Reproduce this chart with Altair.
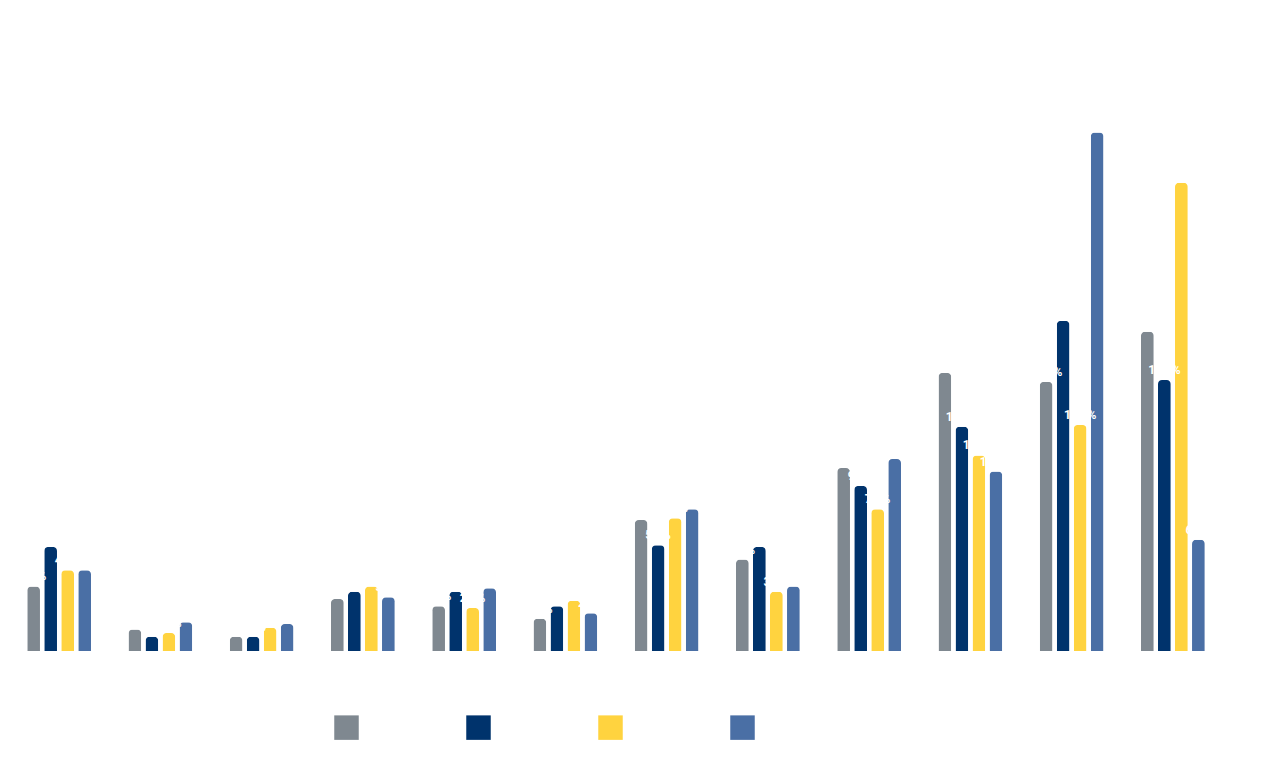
import altair as alt
import pandas as pd

months = ["jan", "fev", "mar", "abr", "mai", "jun", "jul", "ago", "set", "out", "nov", "dez"]
series = ["2020", "2021", "2022", "2023"]
colors = ["#7f8890", "#00336c", "#ffd33f", "#4a6fa5"]

v2020 = [3.6, 1.2, 0.8, 2.9, 2.5, 1.8, 7.3, 5.1, 10.2, 15.5, 15.0, 17.8]
v2021 = [5.8, 0.8, 0.8, 3.3, 3.3, 2.5, 5.9, 5.8, 9.2, 12.5, 18.4, 15.1]
v2022 = [4.5, 1.0, 1.3, 3.6, 2.4, 2.8, 7.4, 3.3, 7.9, 10.9, 12.6, 26.1]
v2023 = [4.5, 1.6, 1.5, 3.0, 3.5, 2.1, 7.9, 3.6, 10.7, 10.0, 28.9, 6.2]

rows = []
for s, vals in zip(series, [v2020, v2021, v2022, v2023]):
    for m, v in zip(months, vals):
        rows.append({"mes": m, "ano": s, "valor": v,
                     "rotulo": f"{v:.1f}%".replace(".", ",")})
df = pd.DataFrame(rows)

x = alt.X("mes:N", sort=months, title=None,
          scale=alt.Scale(paddingInner=0.37, paddingOuter=0.18),
          axis=alt.Axis(labelColor="white", labelFontSize=14, domain=False,
                        ticks=False, grid=False, labelPadding=12, labelAngle=0))
xo = alt.XOffset("ano:N", sort=series, scale=alt.Scale(paddingInner=0.25))
y = alt.Y("valor:Q", title=None, scale=alt.Scale(domain=[0, 34], nice=False),
          axis=None)

bars = alt.Chart(df).mark_bar(cornerRadiusTopLeft=4, cornerRadiusTopRight=4).encode(
    x=x, xOffset=xo, y=y,
    color=alt.Color("ano:N", sort=series,
                    scale=alt.Scale(domain=series, range=colors),
                    legend=alt.Legend(title=None, orient="none", direction="horizontal",
                                      legendX=325, legendY=674, symbolType="square",
                                      symbolSize=600, symbolStrokeWidth=0,
                                      labelColor="white", labelFontSize=14,
                                      columnPadding=71)),
)

labels = alt.Chart(df).mark_text(color="white", fontSize=12, fontWeight="bold",
                                 baseline="bottom", dy=-3).encode(
    x=x, xOffset=xo, y=y, text="rotulo:N",
)

chart = (bars + labels).properties(
    width=1214, height=610,
    padding={"left": 1, "top": 33, "right": 0, "bottom": 0},
).configure(font="Roboto").configure_view(stroke=None, strokeWidth=0).configure_axis(
    grid=False, domain=False
)

chart.save("out.html", embed_options={"renderer": "svg", "actions": False})
